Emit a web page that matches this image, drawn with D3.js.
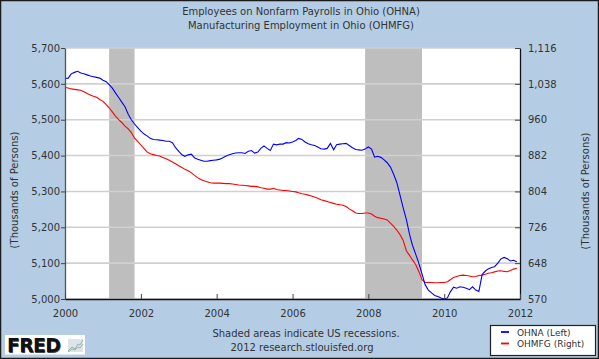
<!DOCTYPE html>
<html><head><meta charset="utf-8">
<script src="https://cdn.jsdelivr.net/npm/d3@7"></script>
<style>
html,body{margin:0;padding:0;background:#fff;}
svg{display:block;}
text{font-family:"DejaVu Sans",Verdana,sans-serif;}
</style></head>
<body>
<svg id="chart" width="599" height="359"></svg>
<script>
const titleLines = ["Employees on Nonfarm Payrolls in Ohio (OHNA)", "Manufacturing Employment in Ohio (OHMFG)"];
const footerLines = ["Shaded areas indicate US recessions.", "2012 research.stlouisfed.org"];
const yTitle = "(Thousands of Persons)";
const seriesNames = ["OHNA (Left)", "OHMFG (Right)"];
const seriesColors = ["#0000ff", "#ff0000"];
const startYear = 2000;
const leftTicks = [5000, 5100, 5200, 5300, 5400, 5500, 5600, 5700];
const rightTicks = [570, 648, 726, 804, 882, 960, 1038, 1116];
const yearTicks = [2000, 2002, 2004, 2006, 2008, 2010, 2012];
// recessions: [start year, start month index(0-based), end year, end month index]
const recessions = [[2001, 2, 2001, 10], [2007, 11, 2009, 5]];

// OHNA monthly, Jan 2000 - Dec 2011 (thousands)
const ohna = [
5615,5616,5628,5632,5635,5630,5628,5625,5622,5620,5618,5616,
5610,5606,5598,5588,5575,5562,5549,5536,5515,5500,5488,5478,
5468,5460,5455,5448,5445,5444,5443,5442,5440,5440,5436,5422,
5412,5402,5398,5402,5404,5394,5390,5387,5384,5384,5386,5387,
5388,5390,5394,5399,5402,5405,5407,5408,5408,5406,5412,5414,
5407,5410,5420,5427,5420,5414,5432,5430,5432,5432,5436,5435,
5438,5442,5448,5445,5438,5433,5430,5428,5424,5419,5418,5420,
5434,5416,5430,5432,5433,5434,5428,5422,5417,5416,5415,5418,
5424,5418,5396,5398,5395,5388,5380,5368,5348,5325,5290,5255,
5222,5180,5150,5125,5100,5070,5040,5025,5017,5010,5007,5003,
5000,5003,5020,5033,5030,5034,5033,5030,5026,5034,5025,5021,
5068,5078,5084,5088,5090,5100,5112,5116,5112,5106,5108,5104
];
// OHMFG monthly, Jan 2000 - Dec 2011 (thousands)
const ohmfg = [
1030,1029,1027,1026,1025,1024,1021,1017,1014,1011,1009,1004,
1000,993,986,977,968,960,954,946,940,932,920,913,
905,897,890,886,884,882,881,878,875,872,868,864,
860,856,852,849,845,839,834,830,827,825,823,822,
822,822,821.5,821,821,820,819,818,817.5,817,816,815,
815,814,812,811,809,809,811,808,807,806,806,805,
804,803,801,799,798,796,794,792,789,786,784,782,
780,778,776,775,774,771,766,762,757,756,756,757,
757,755,750,747,745.5,744,742,735,728,720,710,698,
675,665,655,645,630,612,606,606,606,605.5,605.5,606,
606,607.5,612,617,619,621,622,621,620,618.5,619,621,
622,624,626,627,629,631,631.6,630,629.4,632,635,637
];

const W = 599, H = 359;
const P = {l: 65, r: 520, t: 48, b: 299};
const svg = d3.select("#chart");

svg.append("rect").attr("x", 0.5).attr("y", 0.5).attr("width", W - 1).attr("height", H - 1)
  .attr("fill", "#b4cde4").attr("stroke", "#1a1a1a").attr("stroke-width", 1.5);

const x = d3.scaleTime().domain([new Date(2000, 0, 1), new Date(2012, 0, 1)]).range([P.l, P.r]);
const yL = d3.scaleLinear().domain([5000, 5700]).range([P.b, P.t]);
const yR = d3.scaleLinear().domain([570, 1116]).range([P.b, P.t]);

const dates = ohna.map((d, i) => new Date(startYear, i, 1));

// plot background
svg.append("rect").attr("x", P.l).attr("y", P.t).attr("width", P.r - P.l).attr("height", P.b - P.t).attr("fill", "#fff");

// recessions
svg.append("g").selectAll("rect").data(recessions).join("rect")
  .attr("x", d => x(new Date(d[0], d[1], 1)))
  .attr("width", d => x(new Date(d[2], d[3], 1)) - x(new Date(d[0], d[1], 1)))
  .attr("y", P.t).attr("height", P.b - P.t).attr("fill", "#bebebe");

// grid
svg.append("g").selectAll("line").data(leftTicks).join("line")
  .attr("x1", P.l).attr("x2", P.r).attr("y1", d => yL(d)).attr("y2", d => yL(d))
  .attr("stroke", "#d0d0d0").attr("stroke-width", 1.6);

// lines
const lineL = d3.line().x((d, i) => x(dates[i])).y(d => yL(d));
const lineR = d3.line().x((d, i) => x(dates[i])).y(d => yR(d));
svg.append("path").datum(ohmfg).attr("d", lineR).attr("fill", "none")
  .attr("stroke", seriesColors[1]).attr("stroke-width", 1.1);
svg.append("path").datum(ohna).attr("d", lineL).attr("fill", "none")
  .attr("stroke", seriesColors[0]).attr("stroke-width", 1.1);

// axes
function styleAxis(g, lineColor) {
  g.select(".domain").attr("stroke", lineColor).attr("stroke-width", 1.3);
  g.selectAll(".tick line").attr("stroke", "#444");
  g.selectAll("text").attr("fill", "#333").attr("font-size", 10)
    .attr("font-family", '"DejaVu Sans",Verdana,sans-serif');
}
svg.append("g").attr("transform", `translate(${P.l},0)`)
  .call(d3.axisLeft(yL).tickValues(leftTicks).tickSize(4).tickSizeOuter(0).tickPadding(1).tickFormat(d3.format(",")))
  .call(g => styleAxis(g, "#555"));
svg.append("g").attr("transform", `translate(${P.r},0)`)
  .call(d3.axisRight(yR).tickValues(rightTicks).tickSize(-5).tickSizeOuter(0).tickPadding(8).tickFormat(d3.format(",")))
  .call(g => styleAxis(g, "#111"));
svg.append("g").attr("transform", `translate(0,${P.b})`)
  .call(d3.axisBottom(x).tickValues(yearTicks.map(y => new Date(y, 0, 1))).tickSize(-5).tickSizeOuter(0).tickPadding(11).tickFormat(d3.timeFormat("%Y")))
  .call(g => styleAxis(g, "#111"));

// titles
svg.append("g").selectAll("text").data(titleLines).join("text")
  .attr("x", 301).attr("y", (d, i) => 15 + i * 13.5).attr("text-anchor", "middle")
  .attr("font-size", 10).attr("fill", "#333").text(d => d);
svg.append("g").selectAll("text").data(footerLines).join("text")
  .attr("x", (d, i) => i === 0 ? 306 : 302).attr("y", (d, i) => 337 + i * 13.5).attr("text-anchor", "middle")
  .attr("font-size", 10).attr("fill", "#333").text(d => d);

svg.append("text").attr("transform", "translate(18,190) rotate(-90)").attr("text-anchor", "middle")
  .attr("font-size", 10).attr("fill", "#333").text(yTitle);
svg.append("text").attr("transform", "translate(589,191) rotate(-90)").attr("text-anchor", "middle")
  .attr("font-size", 10).attr("fill", "#333").text(yTitle);

// legend
const lg = svg.append("g");
lg.append("rect").attr("x", 490.5).attr("y", 325.5).attr("width", 105).attr("height", 30)
  .attr("fill", "#fff").attr("stroke", "#222").attr("stroke-width", 1.2);
const le = lg.selectAll("g.e").data(seriesNames).join("g").attr("class", "e")
  .attr("transform", (d, i) => `translate(0,${332 + i * 11.5})`);
le.append("line").attr("x1", 501).attr("x2", 509).attr("stroke", (d, i) => seriesColors[i]).attr("stroke-width", 1.8);
le.append("text").attr("x", 517).attr("y", 3.5).attr("font-size", 9).attr("fill", "#333").text(d => d);

// FRED logo
const logo = svg.append("g");
logo.append("rect").attr("x", 5).attr("y", 335).attr("width", 80).attr("height", 19.5).attr("fill", "#fff");
logo.append("text").attr("x", 7.5).attr("y", 352.5).attr("font-size", 19).attr("font-weight", "bold")
  .attr("font-family", '"DejaVu Sans",sans-serif').attr("letter-spacing", -0.8).attr("fill", "#444").text("FRED");
logo.append("text").attr("x", 7).attr("y", 352).attr("font-size", 19).attr("font-weight", "bold")
  .attr("font-family", '"DejaVu Sans",sans-serif').attr("letter-spacing", -0.8).attr("fill", "#111").text("FRED");
logo.append("rect").attr("x", 68).attr("y", 339).attr("width", 15).attr("height", 13).attr("fill", "#dfe3e6");
logo.append("path").attr("d", "M68,351 L72,347 L75,349 L78,344 L80,345 L83,340").attr("fill", "none").attr("stroke", "#8aaed0").attr("stroke-width", 1);
logo.append("path").attr("d", "M68,352 L72,349 L75,350 L78,347 L80,348 L83,344").attr("fill", "none").attr("stroke", "#9cc07a").attr("stroke-width", 1);
</script>
</body></html>
